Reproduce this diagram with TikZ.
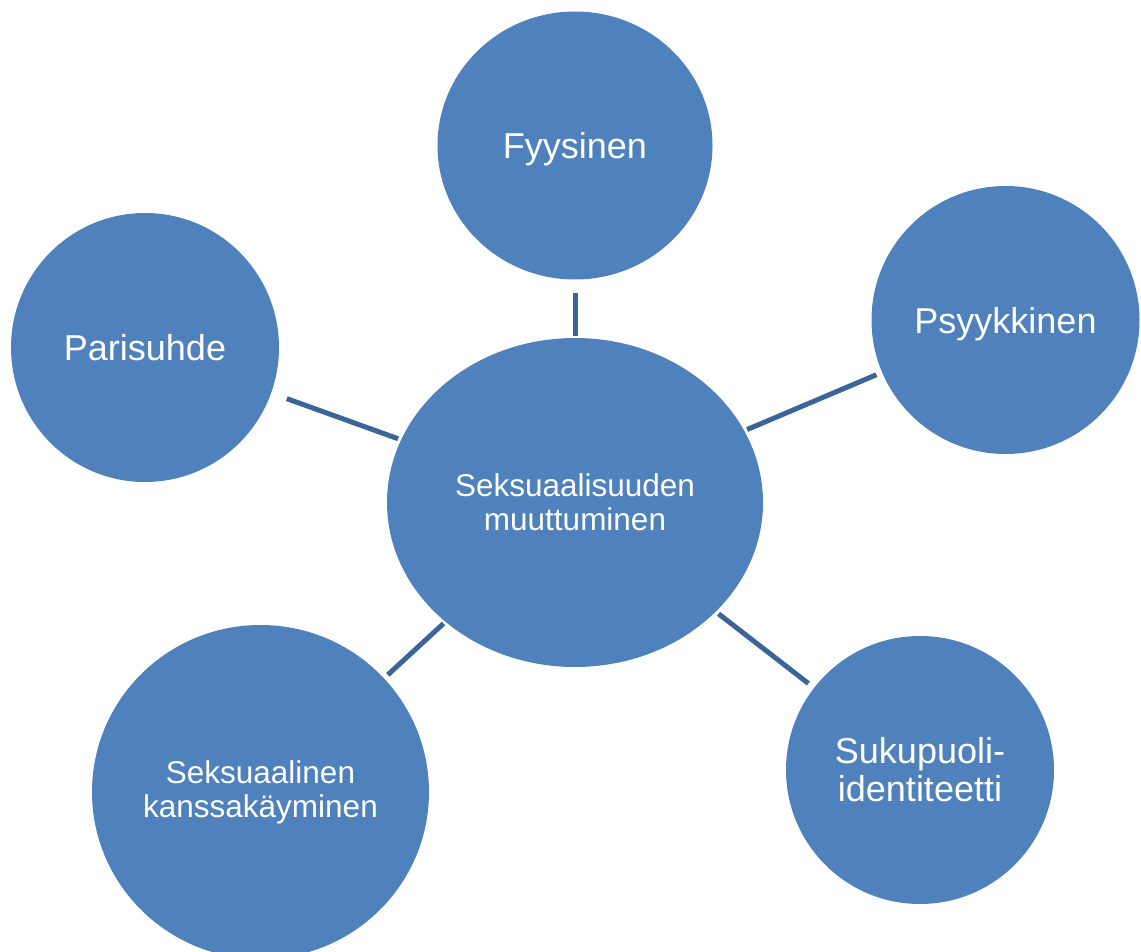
\documentclass[tikz,border=0pt]{standalone}
\usepackage{fontspec}
\setmainfont{Liberation Sans}
\usetikzlibrary{shapes.geometric}
\definecolor{bubble}{HTML}{4F81BD}
\definecolor{linkc}{HTML}{3B6597}
\tikzset{
  bubble/.style={ellipse, fill=bubble, draw=none, inner sep=0pt, text=white, align=center},
  bigtext/.style={font=\fontsize{36pt}{38pt}\selectfont},
  smalltext/.style={font=\fontsize{31.5pt}{34pt}\selectfont},
  link/.style={draw=linkc, line width=5pt}
}
\begin{document}
\begin{tikzpicture}[x=1pt,y=-1pt]
\useasboundingbox (0,0) rectangle (1141,952);
\clip (0,0) rectangle (1141,952);
\node[bubble, smalltext, minimum width=376pt, minimum height=329pt] (c) at (575,502.5) {Seksuaalisuuden\\muuttuminen};
\node[bubble, bigtext, text depth=0pt, minimum width=275pt, minimum height=268pt] (f) at (575,145.5) {Fyysinen};
\node[bubble, bigtext, text depth=0pt, minimum width=268pt, minimum height=268pt] (p) at (1005.5,320) {Psyykkinen};
\node[bubble, bigtext, minimum width=268pt, minimum height=269pt] (r) at (145,347.5) {Parisuhde};
\node[bubble, smalltext, minimum width=337pt, minimum height=334pt] (k) at (260.5,792) {Seksuaalinen\\kanssakäyminen};
\node[bubble, bigtext, minimum width=268pt, minimum height=268pt] (s) at (920,770) {Sukupuoli-\\identiteetti};
\draw[link, shorten <=2pt, shorten >=13.5pt] (c) -- (f);
\draw[link, shorten <=3pt, shorten >=6pt] (c) -- (p);
\draw[link, shorten <=3pt, shorten >=16.5pt] (c) -- (r);
\draw[link, shorten <=2.5pt, shorten >=5pt] (c) -- (k);
\draw[link, shorten <=3.4pt, shorten >=7pt] (c) -- (s);
\end{tikzpicture}
\end{document}
